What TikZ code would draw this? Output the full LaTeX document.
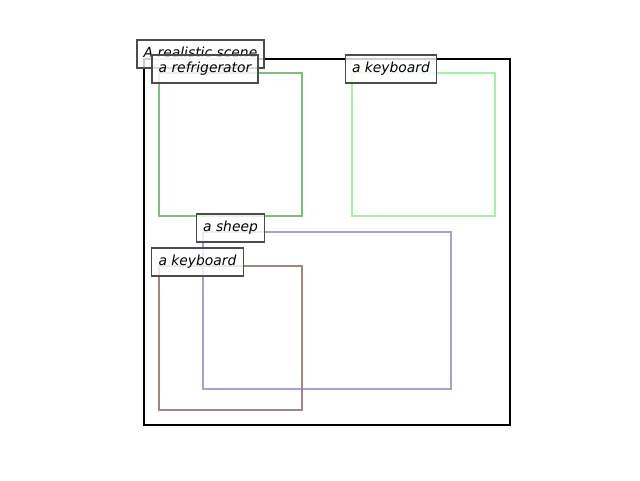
\documentclass[tikz,border=0pt]{standalone}
\usepackage{fontspec}
\setmainfont{DejaVu Sans}
\begin{document}
\begin{tikzpicture}[x=0.75pt,y=-0.75pt,
  lbl/.style={draw=black!70, line width=0.9pt, fill=white, fill opacity=0.8, draw opacity=1, text opacity=1,
    font=\fontsize{10.4}{12}\selectfont\itshape, inner xsep=5pt, minimum height=21pt, text height=7.4pt, text depth=2.6pt},
  bx/.style={line width=2.2pt}]
\definecolor{cfridge}{HTML}{7DBE7D}
\definecolor{ckbtop}{HTML}{A6F0A6}
\definecolor{csheep}{HTML}{A6A2C8}
\definecolor{ckbbot}{HTML}{A0867E}
\useasboundingbox (0,0) rectangle (640,480);
\draw[line width=2pt] (144,59) rectangle (510,425);
\draw[bx, cfridge] (159,73) rectangle (302,216);
\draw[bx, ckbtop] (352,73) rectangle (495,216);
\draw[bx, csheep] (203,232) rectangle (451,389);
\draw[bx, ckbbot] (159,266) rectangle (302,410);
\node[lbl] (scene) at (200.5,54) {A realistic scene};
\node[lbl] (fridge) at (205,69) {a refrigerator};
\node[lbl] (kbtop) at (391,69) {a keyboard};
\node[lbl] (sheep) at (230.5,228) {a sheep};
\node[lbl] (kbbot) at (197.5,262) {a keyboard};
\end{tikzpicture}
\end{document}
